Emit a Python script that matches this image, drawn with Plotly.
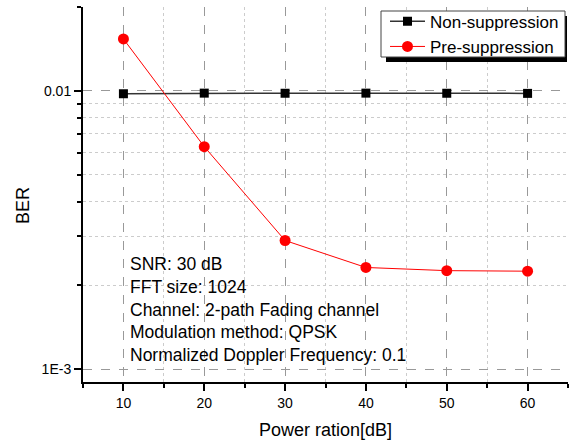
import plotly.graph_objects as go

power_db = [10, 20, 30, 40, 50, 60]
ber_non_suppression = [0.00976, 0.00981, 0.00980, 0.00981, 0.00980, 0.00979]
ber_pre_suppression = [0.01536, 0.0063, 0.0029, 0.00232, 0.00226, 0.00225]

x_major = [10, 20, 30, 40, 50, 60]
x_minor = [5, 15, 25, 35, 45, 55, 65]
y_major = [0.001, 0.01]
y_major_text = ["1E-3", "0.01"]
y_minor = [0.002, 0.003, 0.004, 0.005, 0.006, 0.007, 0.008, 0.009, 0.02]

info_lines = ["SNR: 30 dB", "FFT size: 1024", "Channel: 2-path Fading channel",
              "Modulation method: QPSK", "Normalized Doppler Frequency: 0.1"]

FONT = "Liberation Sans, Arial, sans-serif"
W, H = 573, 441
L, R, T, B = 83, 5, 7, 59
pw, ph = W - L - R, H - T - B


def px_x(p):
    return (p - L) / pw


def px_y(p):
    return 1 - (p - T) / ph


LEG_FONT = 17
fig = go.Figure()
fig.add_trace(go.Scatter(
    x=power_db, y=ber_non_suppression, name="Non-suppression", mode="lines+markers",
    line=dict(color="#333333", width=1.5),
    marker=dict(symbol="square", size=9, color="black")))
fig.add_trace(go.Scatter(
    x=power_db, y=ber_pre_suppression, name="Pre-suppression", mode="lines+markers",
    line=dict(color="red", width=1),
    marker=dict(symbol="circle", size=11, color="red")))

# legend frame with drop shadow (legend itself is drawn transparent on top)
bx0, bx1, by0, by1 = 381, 565, 11, 57
off = 5
fig.add_shape(type="rect", xref="paper", yref="paper",
              x0=px_x(bx0 + off), x1=px_x(bx1 + 2), y0=px_y(by1 + off), y1=px_y(by0 + off),
              fillcolor="black", line=dict(width=0), layer="above")
fig.add_shape(type="rect", xref="paper", yref="paper",
              x0=px_x(bx0), x1=px_x(bx1), y0=px_y(by1), y1=px_y(by0),
              fillcolor="white", line=dict(color="#444444", width=1), layer="above")

fig.add_annotation(
    x=px_x(128), y=px_y(252), xref="paper", yref="paper",
    xanchor="left", yanchor="top", align="left", showarrow=False,
    text="<br>".join(info_lines), font=dict(family=FONT, size=17.5, color="black"))

fig.add_annotation(
    x=px_x(23), y=px_y(206), xref="paper", yref="paper",
    xanchor="center", yanchor="middle", showarrow=False, textangle=-90,
    text="BER", font=dict(family=FONT, size=18, color="black"))

fig.update_layout(
    width=W, height=H, margin=dict(l=L, r=R, t=T, b=B, autoexpand=False),
    paper_bgcolor="white", plot_bgcolor="white",
    font=dict(family=FONT, size=14, color="black"),
    legend=dict(x=px_x(bx0 + 4), y=px_y(3.8), xanchor="left", yanchor="top",
                bgcolor="rgba(0,0,0,0)", borderwidth=0,
                font=dict(family=FONT, size=LEG_FONT, color="black"),
                tracegroupgap=0, itemwidth=35),
    xaxis=dict(
        range=[5, 65], tickvals=x_major, showline=True, linecolor="black", linewidth=2,
        ticks="outside", ticklen=7, tickwidth=1.5, tickcolor="black",
        showgrid=True, gridcolor="#999999", griddash="dash", gridwidth=1,
        zeroline=False, tickfont=dict(size=14),
        title=dict(text="Power ration[dB]", font=dict(size=18), standoff=14),
        minor=dict(tickvals=x_minor, ticks="outside", ticklen=4, tickcolor="black", tickwidth=1.5,
                   showgrid=True, gridcolor="#cccccc", griddash="dot", gridwidth=1)),
    yaxis=dict(
        type="log", range=[-3.0458, -1.699], tickvals=y_major, ticktext=y_major_text,
        showline=True, linecolor="black", linewidth=2,
        ticks="outside", ticklen=7, tickwidth=1.5, tickcolor="black",
        showgrid=True, gridcolor="#999999", griddash="dash", gridwidth=1,
        zeroline=False, tickfont=dict(size=14),
        minor=dict(tickvals=y_minor, ticks="outside", ticklen=4, tickcolor="black", tickwidth=1.5,
                   showgrid=True, gridcolor="#cccccc", griddash="dot", gridwidth=1)),
)

fig.write_html("out.html")
